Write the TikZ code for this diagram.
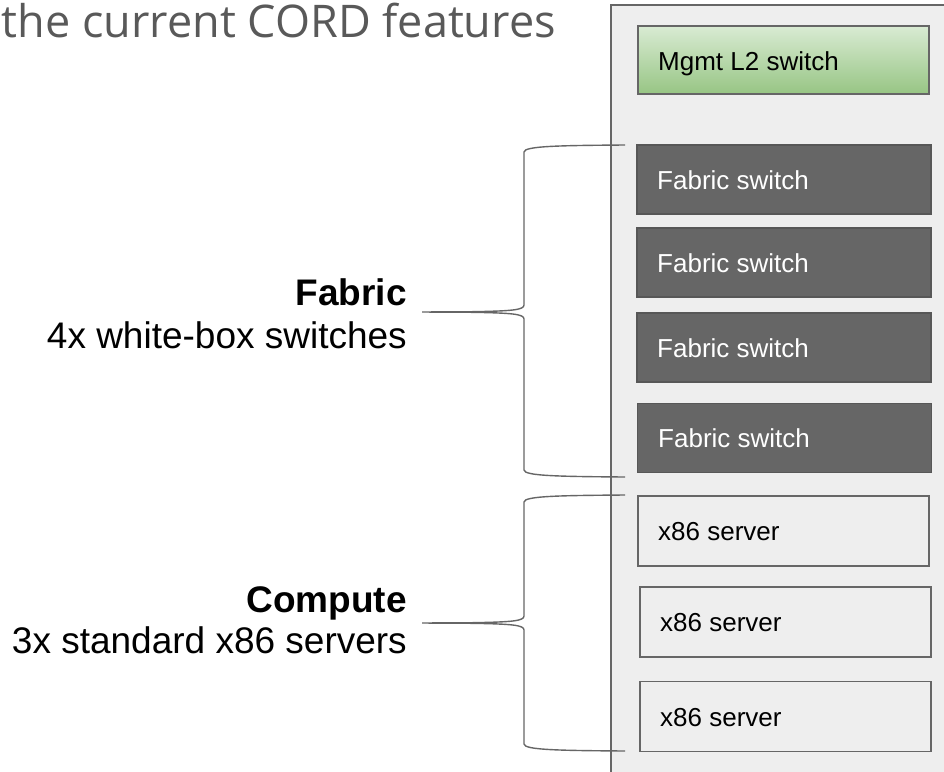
\documentclass[tikz,border=0pt]{standalone}
\usepackage{fontspec}
\setmainfont{Liberation Sans}
\newfontfamily\titlefont{Open Sans}
\definecolor{rackfill}{HTML}{EEEEEE}
\definecolor{edgegray}{HTML}{666666}
\definecolor{fabfill}{HTML}{666666}
\definecolor{greentop}{HTML}{D9EBD3}
\definecolor{greenbot}{HTML}{97C584}
\definecolor{titlegray}{HTML}{595959}
\tikzset{
  rackbox/.style={draw=edgegray, line width=1.5pt, fill=rackfill},
  unit/.style={draw=edgegray, line width=1.3pt, inner sep=0pt},
  mgmtbox/.style={unit, top color=greentop, bottom color=greenbot, minimum width=291pt, minimum height=68pt},
  fabbox/.style={unit, draw=edgegray!85!black, fill=fabfill, minimum width=294pt, minimum height=69pt},
  srvbox/.style={unit, fill=rackfill, minimum width=291pt, minimum height=70pt},
  boxtext/.style={font=\fontsize{26}{30}\selectfont, inner sep=0pt, anchor=base west},
  lbltext/.style={font=\fontsize{37}{44}\selectfont, inner sep=0pt, anchor=base east},
  bracepath/.style={draw=edgegray, line width=1.4pt},
}
\begin{document}
\begin{tikzpicture}[x=1pt,y=-1pt]
\useasboundingbox (0,0) rectangle (944,771);
% title
\node[font=\titlefont\fontsize{45}{54}\selectfont, text=titlegray, inner sep=0pt, anchor=base east] (title) at (556,37) {the current CORD features};
% rack
\draw[rackbox] (611,5) rectangle (960,790);
% units
\node[mgmtbox] (mgmt) at (783.5,60) {};
\node[boxtext] (mgmtt) at (658,70) {Mgmt L2 switch};
\node[fabbox] (f1) at (784,179.5) {};
\node[boxtext, text=white] (f1t) at (657,189) {Fabric switch};
\node[fabbox] (f2) at (784,262.5) {};
\node[boxtext, text=white] (f2t) at (657,272) {Fabric switch};
\node[fabbox] (f3) at (784,347.5) {};
\node[boxtext, text=white] (f3t) at (657,357) {Fabric switch};
\node[fabbox] (f4) at (784.5,438) {};
\node[boxtext, text=white] (f4t) at (658,447.5) {Fabric switch};
\node[srvbox] (s1) at (783.5,531) {};
\node[boxtext] (s1t) at (658,540.5) {x86 server};
\node[srvbox] (s2) at (785.5,622) {};
\node[boxtext] (s2t) at (660,631.5) {x86 server};
\node[srvbox] (s3) at (785.5,716.5) {};
\node[boxtext] (s3t) at (660,726) {x86 server};
% labels
\node[lbltext, font=\fontsize{37}{44}\selectfont\bfseries] (fabl) at (407,305) {Fabric};
\node[lbltext] (fabd) at (407,348) {4x white-box switches};
\node[lbltext, font=\fontsize{37}{44}\selectfont\bfseries] (coml) at (407,612) {Compute};
\node[lbltext] (comd) at (407,653) {3x standard x86 servers};
% braces
\coordinate (fbtop) at (625,145);
\coordinate (fbbot) at (625,477);
\coordinate (fbtip) at (422,312);
\coordinate (cbtop) at (625,495);
\coordinate (cbbot) at (625,751);
\coordinate (cbtip) at (422,623);
\draw[bracepath] (fbtop) .. controls (560,145.5) and (524,146) .. (524,152) -- (524,305)
  .. controls (524,310) and (512,311) .. (472,311.7) -- (fbtip)
  -- (472,312.3) .. controls (512,313) and (524,314) .. (524,319) -- (524,470)
  .. controls (524,476) and (560,476.5) .. (fbbot);
\draw[bracepath] (cbtop) .. controls (560,495.5) and (524,496) .. (524,502) -- (524,616)
  .. controls (524,621) and (512,622) .. (472,622.7) -- (cbtip)
  -- (472,623.3) .. controls (512,624) and (524,625) .. (524,630) -- (524,744)
  .. controls (524,750) and (560,750.5) .. (cbbot);
\end{tikzpicture}
\end{document}
